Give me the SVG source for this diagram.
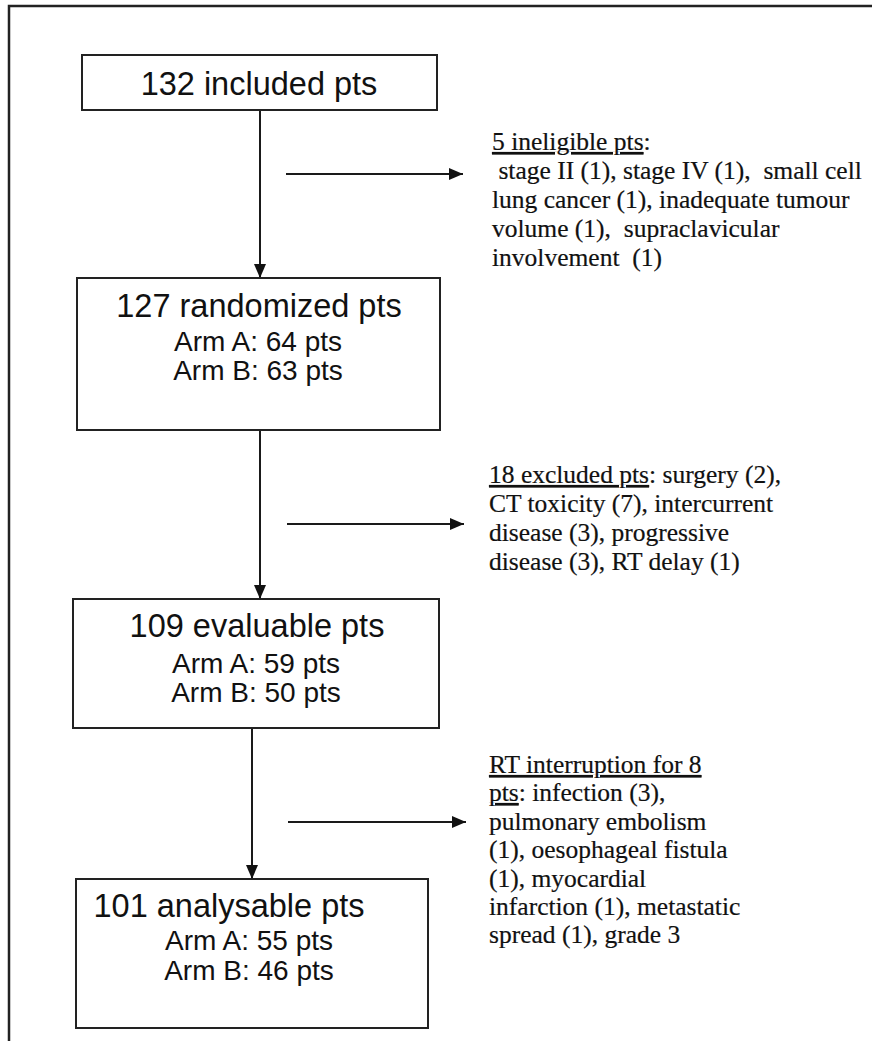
<svg xmlns="http://www.w3.org/2000/svg" width="872" height="1041" viewBox="0 0 872 1041">
  <style>
    .box { fill: #ffffff; stroke: #222222; stroke-width: 2; }
    .frame { fill: none; stroke: #222222; stroke-width: 2.5; }
    .conn { fill: none; stroke: #1a1a1a; stroke-width: 2; }
    .title { font-family: "Liberation Sans", Arial, sans-serif; font-size: 32.5px; fill: #111111; text-anchor: middle; }
    .arm { font-family: "Liberation Sans", Arial, sans-serif; font-size: 28px; fill: #111111; text-anchor: middle; }
    .note { font-family: "Liberation Serif", "Times New Roman", serif; font-size: 25.5px; fill: #111111; white-space: pre; stroke: #111111; stroke-width: 0.2; }
    .u { text-decoration: underline; }
  </style>
  <defs>
    <marker id="arrow" viewBox="0 0 14 12" refX="14" refY="6" markerWidth="14" markerHeight="12" markerUnits="userSpaceOnUse" orient="auto">
      <path d="M0,0 L14,6 L0,12 Z" fill="#111111"/>
    </marker>
  </defs>
  <rect width="872" height="1041" fill="#ffffff"/>
  <g id="frame">
    <path class="frame" d="M9,1041 L9,6 L872,6"/>
  </g>
  <g id="connectors">
    <line class="conn" x1="260" y1="110" x2="260" y2="278" marker-end="url(#arrow)"/>
    <line class="conn" x1="286" y1="174" x2="463" y2="174" marker-end="url(#arrow)"/>
    <line class="conn" x1="260" y1="430" x2="260" y2="599" marker-end="url(#arrow)"/>
    <line class="conn" x1="287" y1="524" x2="464" y2="524" marker-end="url(#arrow)"/>
    <line class="conn" x1="252" y1="728" x2="252" y2="879" marker-end="url(#arrow)"/>
    <line class="conn" x1="288" y1="822" x2="466" y2="822" marker-end="url(#arrow)"/>
  </g>
  <g id="node-included">
    <rect class="box" x="82" y="55" width="355" height="55"/>
    <text class="title" x="259" y="95">132 included pts</text>
  </g>
  <g id="node-randomized">
    <rect class="box" x="77" y="278" width="363" height="152"/>
    <text class="title" x="259" y="317">127 randomized pts</text>
    <text class="arm" x="258" y="351">Arm A: 64 pts</text>
    <text class="arm" x="258" y="380">Arm B: 63 pts</text>
  </g>
  <g id="node-evaluable">
    <rect class="box" x="73" y="599" width="366" height="129"/>
    <text class="title" x="257" y="637">109 evaluable pts</text>
    <text class="arm" x="256" y="673">Arm A: 59 pts</text>
    <text class="arm" x="256" y="702">Arm B: 50 pts</text>
  </g>
  <g id="node-analysable">
    <rect class="box" x="76" y="879" width="352" height="149"/>
    <text class="title" x="229" y="917">101 analysable pts</text>
    <text class="arm" x="249" y="950">Arm A: 55 pts</text>
    <text class="arm" x="249" y="980">Arm B: 46 pts</text>
  </g>
  <g id="note-ineligible">
    <text class="note" x="492" y="150"><tspan class="u">5 ineligible pts</tspan>:</text>
    <text class="note" x="492" y="179"> stage II (1), stage IV (1),  small cell</text>
    <text class="note" x="492" y="208">lung cancer (1), inadequate tumour</text>
    <text class="note" x="492" y="237">volume (1),  supraclavicular</text>
    <text class="note" x="492" y="266">involvement  (1)</text>
  </g>
  <g id="note-excluded">
    <text class="note" x="489" y="483"><tspan class="u">18 excluded pts</tspan>: surgery (2),</text>
    <text class="note" x="489" y="512">CT toxicity (7), intercurrent</text>
    <text class="note" x="489" y="541">disease (3), progressive</text>
    <text class="note" x="489" y="570">disease (3), RT delay (1)</text>
  </g>
  <g id="note-interruption">
    <text class="note" x="489" y="773"><tspan class="u">RT interruption for 8</tspan></text>
    <text class="note" x="489" y="801"><tspan class="u">pts</tspan>: infection (3),</text>
    <text class="note" x="489" y="830">pulmonary embolism</text>
    <text class="note" x="489" y="858">(1), oesophageal fistula</text>
    <text class="note" x="489" y="887">(1), myocardial</text>
    <text class="note" x="489" y="915">infarction (1), metastatic</text>
    <text class="note" x="489" y="943">spread (1), grade 3</text>
  </g>
</svg>
